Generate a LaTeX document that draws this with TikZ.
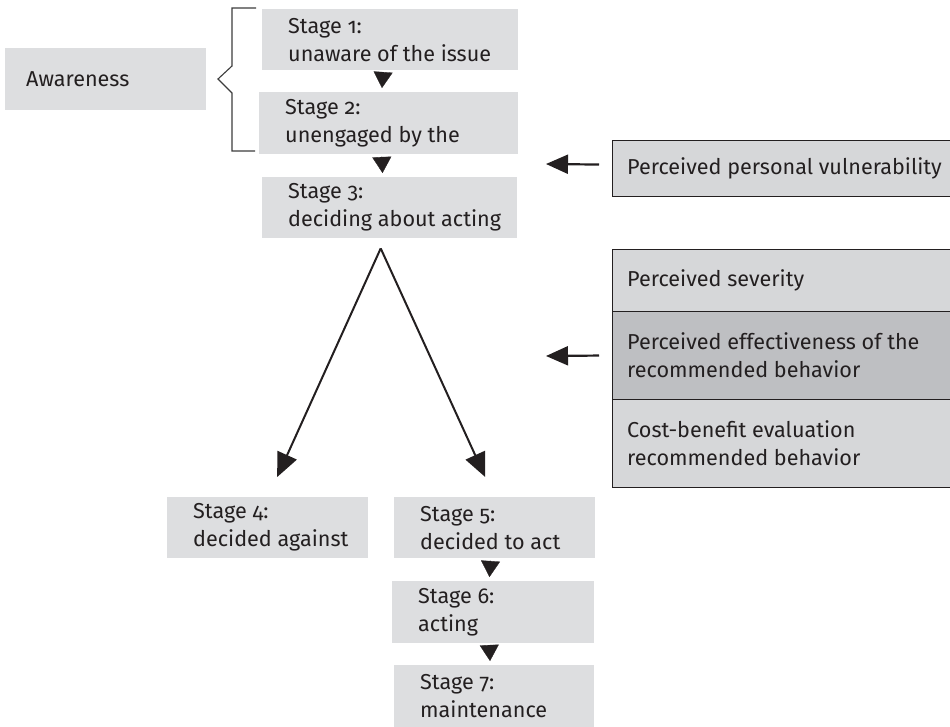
\documentclass[tikz,border=0pt]{standalone}
\usepackage{fontspec}
\setmainfont[Numbers=OldStyle]{Fira Sans}
\usetikzlibrary{arrows.meta,calc}
\definecolor{boxgray}{RGB}{221,222,224}
\definecolor{panelgray}{RGB}{214,215,217}
\definecolor{darkpanel}{RGB}{190,191,194}
\definecolor{ink}{RGB}{35,31,32}
\definecolor{bracecol}{RGB}{60,60,60}
\newcommand\fillbox[6]{%
  \node[fillbox, minimum width=#4pt, minimum height=#5pt] (#1) at (#2,#3) {};
  \node[boxtext] (#1-t) at ($(#1.west)+(26,0)$) {#6};}
\begin{document}
\begin{tikzpicture}[x=1pt,y=-1pt,
  every node/.style={font=\fontsize{21.6}{28}\selectfont, text=ink},
  fillbox/.style={fill=boxgray, draw=none, anchor=north west, inner sep=0pt},
  boxtext/.style={anchor=west, align=left, inner sep=0pt},
  panel/.style={fill=panelgray, draw=ink, line width=1.1pt, anchor=north west, inner sep=0pt},
  paneltext/.style={anchor=west, align=left, inner sep=0pt},
  stagearrow/.style={ink, line width=0.3pt, -{Triangle[length=16pt,width=19pt]}, shorten <=2pt, shorten >=4pt},
  varrow/.style={ink, line width=2pt, -{Triangle[length=24pt,width=21pt]}},
  sidearrow/.style={ink, line width=2.2pt, -{Triangle[length=22pt,width=19pt]}}
]
\useasboundingbox (0,0) rectangle (950,727);

% awareness
\node[fillbox, minimum width=201pt, minimum height=62pt] (aw) at (5,48) {};
\node[boxtext] (aw-t) at ($(aw.west)+(21,0)$) {Awareness};

% stages
\fillbox{s1}{262}{9}{256}{61}{Stage 1:\\unaware of the issue}
\fillbox{s2}{259}{92}{259}{62}{Stage 2:\\unengaged by the}
\fillbox{s3}{262}{177}{255}{61}{Stage 3:\\deciding about acting}
\fillbox{s4}{167}{497}{201}{61}{Stage 4:\\decided against}
\fillbox{s5}{394}{497}{201}{61}{Stage 5:\\decided to act}
\fillbox{s6}{392}{581}{202}{62}{Stage 6:\\acting}
\fillbox{s7}{394}{665}{200}{62}{Stage 7:\\maintenance}

% brace
\draw[bracecol, line width=1.1pt] (256,8) -- (232,8) -- (232,66) -- (218,79) -- (232,93) -- (232,151) -- (255,151);

% arrows between stages
\draw[stagearrow] ([xshift=-7pt]s1.south) -- ([xshift=-7pt]s2.north);
\draw[stagearrow] ([xshift=-7pt]s2.south) -- ([xshift=-7pt]s3.south |- s3.north);
\draw[stagearrow] ([xshift=-4pt]s5.south) -- ([xshift=-4pt]s6.north);
\draw[stagearrow] ([xshift=-4pt]s6.south) -- ([xshift=-4pt]s7.north);

% V split
\coordinate (apex) at ([xshift=-9pt,yshift=-10pt]s3.south);
\coordinate (tip4) at ([xshift=9.5pt,yshift=20pt]s4.north);
\coordinate (tip5) at ([xshift=-9.5pt,yshift=20pt]s5.north);
\draw[varrow] (apex) -- (tip4);
\draw[varrow] (apex) -- (tip5);

% right panels
\node[panel, minimum width=340pt, minimum height=56pt] (pv) at (612,140) {};
\node[paneltext] (pv-t) at ($(pv.west)+(15,0)$) {Perceived personal vulnerability};
\node[panel, minimum width=340pt, minimum height=62pt] (ps) at (612,249) {};
\node[paneltext] (ps-t) at ($(ps.west)+(15,0)$) {Perceived severity};
\node[panel, fill=darkpanel, minimum width=340pt, minimum height=88pt] (pe) at (612,311) {};
\node[paneltext] (pe-t) at ($(pe.west)+(15,0)$) {Perceived effectiveness of the\\recommended behavior};
\node[panel, minimum width=340pt, minimum height=88pt] (pc) at (612,399) {};
\node[paneltext] (pc-t) at ($(pc.west)+(15,0)$) {Cost-benefit evaluation\\recommended behavior};

% side arrows
\coordinate (a1) at (546,164);
\coordinate (a2) at (546,356);
\draw[sidearrow] ([xshift=-13pt,yshift=4pt]pv.west) -- (a1);
\draw[sidearrow] ([xshift=-13pt]pe.west) -- (a2);
\end{tikzpicture}
\end{document}
